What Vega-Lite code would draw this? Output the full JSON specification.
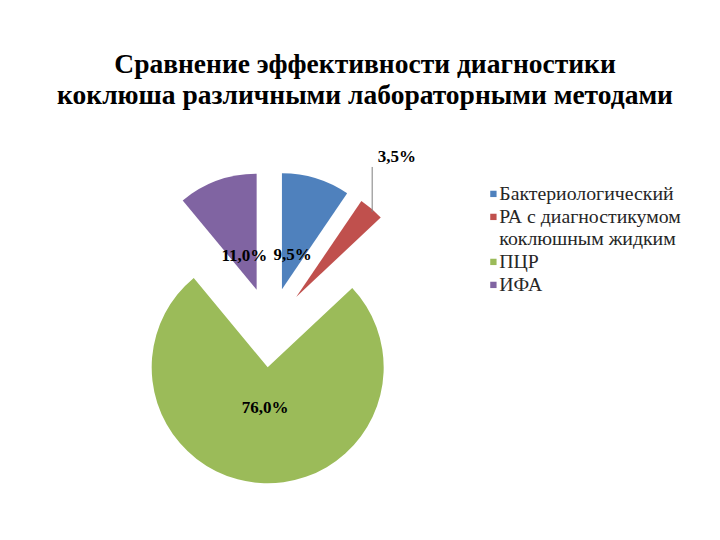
{
  "$schema": "https://vega.github.io/schema/vega-lite/v6.json",
  "width": 720,
  "height": 420,
  "autosize": {"type": "none"},
  "padding": {"top": 120, "left": 0, "right": 0, "bottom": 0},
  "background": "white",
  "title": {
    "text": ["Сравнение эффективности диагностики", "коклюша различными лабораторными методами"],
    "font": "Liberation Serif",
    "fontSize": 27.5,
    "fontWeight": "bold",
    "color": "#000000",
    "lineHeight": 31,
    "anchor": "middle",
    "offset": 11,
    "dx": 5
  },
  "data": {
    "values": [
      {"method": "Бактериологический", "value": 9.5},
      {"method": "РА с диагностикумом коклюшным жидким", "value": 3.5},
      {"method": "ПЦР", "value": 76.0},
      {"method": "ИФА", "value": 11.0}
    ]
  },
  "transform": [
    {"joinaggregate": [{"op": "sum", "field": "value", "as": "total"}]},
    {"window": [{"op": "sum", "field": "value", "as": "cum"}], "frame": [null, 0]},
    {"calculate": "(datum.cum - datum.value) / datum.total", "as": "f0"},
    {"calculate": "datum.cum / datum.total", "as": "f1"},
    {"calculate": "(datum.cum - datum.value / 2) / datum.total", "as": "fm"},
    {"calculate": "sin(2 * PI * datum.fm)", "as": "ex"},
    {"calculate": "cos(2 * PI * datum.fm)", "as": "ey"},
    {"calculate": "replace(format(datum.value, '.1f'), '.', ',') + '%'", "as": "label"}
  ],
  "encoding": {
    "x": {"field": "ex", "type": "quantitative", "scale": {"domain": [-6.755, 11.245], "nice": false, "zero": false}, "axis": null},
    "y": {"field": "ey", "type": "quantitative", "scale": {"domain": [-5.315, 5.185], "nice": false, "zero": false}, "axis": null}
  },
  "layer": [
    {
      "mark": {"type": "arc", "outerRadius": 116},
      "encoding": {
        "theta": {"field": "f0", "type": "quantitative", "stack": null, "scale": {"domain": [0, 1]}},
        "theta2": {"field": "f1"},
        "color": {
          "field": "method",
          "type": "nominal",
          "scale": {
            "domain": ["Бактериологический", "РА с диагностикумом коклюшным жидким", "ПЦР", "ИФА"],
            "range": ["#4F81BD", "#C0504D", "#9BBB59", "#8064A2"]
          },
          "legend": {
            "orient": "none",
            "legendX": 483.5,
            "legendY": 64,
            "title": null,
            "symbolType": "square",
            "symbolSize": 40,
            "symbolStrokeWidth": 0,
            "labelFont": "Liberation Serif",
            "labelFontSize": 19.8,
            "labelColor": "#262626",
            "labelLimit": 300,
            "labelOffset": -4,
            "rowPadding": 2,
            "labelExpr": "indexof(datum.label, 'коклюшным') > 0 ? ['РА с диагностикумом', 'коклюшным жидким'] : datum.label",
            "encode": {"labels": {"update": {"lineHeight": {"value": 22}}}}
          }
        }
      }
    },
    {
      "transform": [{"filter": "datum.value > 5 && datum.value < 50"}],
      "mark": {"type": "text", "radius": 36, "font": "Liberation Serif", "fontSize": 17, "fontWeight": "bold", "color": "#000000"},
      "encoding": {
        "theta": {"field": "fm", "type": "quantitative", "stack": null, "scale": {"domain": [0, 1]}},
        "text": {"field": "label"}
      }
    },
    {
      "transform": [{"filter": "datum.value >= 50"}],
      "mark": {"type": "text", "radius": 41, "font": "Liberation Serif", "fontSize": 17, "fontWeight": "bold", "color": "#000000"},
      "encoding": {
        "theta": {"field": "fm", "type": "quantitative", "stack": null, "scale": {"domain": [0, 1]}},
        "text": {"field": "label"}
      }
    },
    {
      "transform": [{"filter": "datum.value <= 5"}],
      "mark": {"type": "text", "radius": 172, "dx": -11, "dy": -9, "font": "Liberation Serif", "fontSize": 17, "fontWeight": "bold", "color": "#000000"},
      "encoding": {
        "theta": {"field": "fm", "type": "quantitative", "stack": null, "scale": {"domain": [0, 1]}},
        "text": {"field": "label"}
      }
    },
    {
      "transform": [{"filter": "datum.value <= 5"}],
      "mark": {"type": "rule", "color": "#7f7f7f", "strokeWidth": 1, "xOffset": 76, "yOffset": -130, "y2Offset": -85},
      "encoding": {
        "y2": {"field": "ey"}
      }
    }
  ],
  "config": {"view": {"stroke": null}}
}
